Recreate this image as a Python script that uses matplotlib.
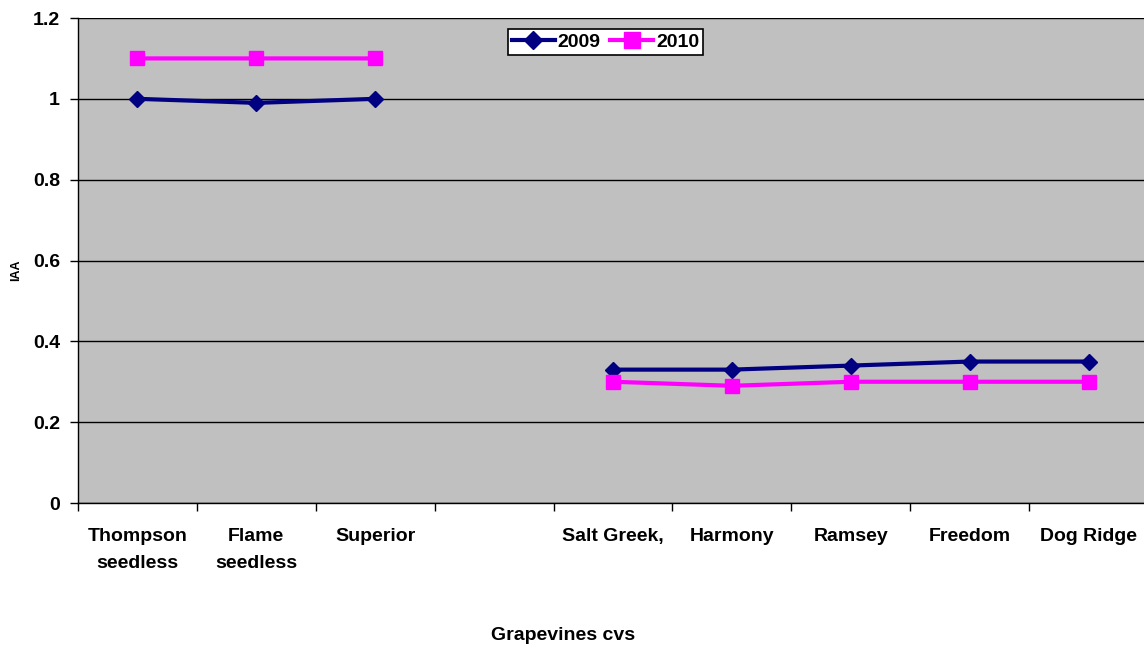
import numpy as np
import matplotlib
matplotlib.use("Agg")
import matplotlib.pyplot as plt
from matplotlib.ticker import FixedLocator

plt.rcParams['font.family'] = ['Liberation Sans', 'DejaVu Sans']
plt.rcParams['font.weight'] = 'bold'
plt.rcParams['axes.labelweight'] = 'bold'

cultivars = ["Thompson\nseedless", "Flame\nseedless", "Superior", "",
             "Salt Greek,", "Harmony", "Ramsey", "Freedom", "Dog Ridge"]
iaa_2009 = [1.00, 0.99, 1.00, np.nan, 0.33, 0.33, 0.34, 0.35, 0.35]
iaa_2010 = [1.10, 1.10, 1.10, np.nan, 0.30, 0.29, 0.30, 0.30, 0.30]
y_ticks = [0, 0.2, 0.4, 0.6, 0.8, 1.0, 1.2]
y_ticklabels = ["0", "0.2", "0.4", "0.6", "0.8", "1", "1.2"]

fig = plt.figure(figsize=(11.44, 6.51), dpi=100)
ax = fig.add_axes([78 / 1144, 148 / 651, 1070 / 1144, 485 / 651])
ax.set_facecolor("#c0c0c0")

x = np.arange(len(cultivars))
ax.plot(x, iaa_2009, color="#000080", lw=3, marker="D", ms=8, label="2009")
ax.plot(x, iaa_2010, color="#ff00ff", lw=3, marker="s", ms=10, label="2010")

ax.set_xlim(-0.5, len(cultivars) - 0.5)
ax.set_ylim(0, 1.2)
ax.set_yticks(y_ticks)
ax.set_yticklabels(y_ticklabels, fontsize=14)
ax.tick_params(axis="y", length=6, width=1, pad=7)
ax.grid(axis="y", color="black", lw=1)
ax.set_axisbelow(True)

# labels sit in the middle of each slot, tick marks on slot boundaries
ax.set_xticks(x)
ax.set_xticklabels(cultivars, fontsize=14, linespacing=1.75)
ax.tick_params(axis="x", which="major", length=0, pad=18)
ax.xaxis.set_minor_locator(FixedLocator(np.arange(-0.5, len(cultivars), 1.0)))
ax.tick_params(axis="x", which="minor", length=6, width=1)

for side in ("top", "right"):
    ax.spines[side].set_visible(False)
for side in ("left", "bottom"):
    ax.spines[side].set_linewidth(1)

ax.set_ylabel("IAA", fontsize=9)
ax.yaxis.set_label_coords(-0.052, 0.48)
ax.set_xlabel("Grapevines cvs", fontsize=14, va="center")
ax.xaxis.set_label_coords(0.453, -0.274)

leg = ax.legend(loc="upper center", bbox_to_anchor=(0.493, 0.997), ncol=2,
                fontsize=14, frameon=True, fancybox=False, edgecolor="black",
                framealpha=1, handlelength=2.2, handletextpad=0.15,
                columnspacing=0.5, borderpad=0.2, markerscale=1.1)
leg.get_frame().set_linewidth(1.2)

fig.savefig("out.png", dpi=100)
